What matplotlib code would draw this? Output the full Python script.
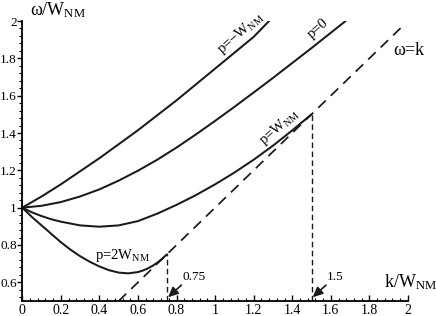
import matplotlib
matplotlib.use('Agg')
import matplotlib.pyplot as plt
from matplotlib.ticker import MultipleLocator, FixedLocator, FixedFormatter

plt.rcParams['font.family'] = ['Liberation Serif', 'DejaVu Serif']
plt.rcParams['mathtext.fontset'] = 'custom'
plt.rcParams['mathtext.rm'] = 'Liberation Serif'
plt.rcParams['mathtext.it'] = 'Liberation Serif:italic'

# ---- data ----
k_neg = [0, 0.1, 0.2, 0.3, 0.4, 0.5, 0.6, 0.7, 0.8, 0.9, 1.0, 1.1, 1.2, 1.28]
w_neg = [1.0, 1.06, 1.125, 1.195, 1.265, 1.34, 1.415, 1.495, 1.575, 1.66, 1.745, 1.83, 1.915, 2.0]

k_zero = [0, 0.1, 0.2, 0.3, 0.4, 0.5, 0.6, 0.7, 0.8, 0.9, 1.0, 1.1, 1.2, 1.3, 1.4, 1.5, 1.6, 1.677]
w_zero = [1.0, 1.01, 1.03, 1.06, 1.098, 1.145, 1.198, 1.257, 1.322, 1.392, 1.465, 1.54, 1.617,
          1.695, 1.775, 1.855, 1.937, 2.0]

k_one = [0, 0.05, 0.1, 0.15, 0.2, 0.3, 0.4, 0.5, 0.6, 0.7, 0.8, 0.9, 1.0, 1.1, 1.2, 1.3, 1.4, 1.5]
w_one = [1.0, 0.975, 0.955, 0.938, 0.925, 0.905, 0.898, 0.905, 0.928, 0.968, 1.015, 1.067,
         1.125, 1.188, 1.257, 1.332, 1.414, 1.5]

k_two = [0, 0.05, 0.1, 0.15, 0.2, 0.25, 0.3, 0.35, 0.4, 0.45, 0.5, 0.55, 0.6, 0.625, 0.65,
         0.675, 0.7, 0.725, 0.75]
w_two = [1.0, 0.95, 0.905, 0.86, 0.815, 0.775, 0.74, 0.71, 0.685, 0.665, 0.652, 0.648, 0.655,
         0.663, 0.674, 0.688, 0.705, 0.726, 0.75]

light_k = [0.5, 1.97]          # omega = k line
cut_k = [0.75, 1.5]            # end points on omega = k
cut_labels = ['0.75', '1.5']

x_ticks = [0, 0.2, 0.4, 0.6, 0.8, 1.0, 1.2, 1.4, 1.6, 1.8, 2.0]
x_ticklabels = ['0', '0.2', '0.4', '0.6', '0.8', '1', '1.2', '1.4', '1.6', '1.8', '2']
y_ticks = [0.6, 0.8, 1.0, 1.2, 1.4, 1.6, 1.8, 2.0]
y_ticklabels = ['0.6', '0.8', '1', '1.2', '1.4', '1.6', '1.8', '2']

fig = plt.figure(figsize=(4.36, 3.16), dpi=100)
ax = fig.add_axes([0.0511, 0.0475, 0.8845, 0.886])

lw = 1.45
col = '#1a1a1a'
ax.plot(k_neg, w_neg, color=col, lw=lw, solid_capstyle='round', solid_joinstyle='round')
ax.plot(k_zero, w_zero, color=col, lw=lw, solid_capstyle='round', solid_joinstyle='round')
ax.plot(k_one, w_one, color=col, lw=lw, solid_capstyle='round', solid_joinstyle='round')
ax.plot(k_two, w_two, color=col, lw=lw, solid_capstyle='round', solid_joinstyle='round')
ax.plot(light_k, light_k, color=col, lw=1.25, dashes=(6, 4))
for c in cut_k:
    ax.plot([c, c], [0.5, c], color=col, lw=1.0, dashes=(4, 2.5))

for c, lab in zip(cut_k, cut_labels):
    ax.annotate('', xy=(c + 0.006, 0.52), xytext=(c + 0.075, 0.585),
                arrowprops=dict(arrowstyle='-|>,head_length=0.6,head_width=0.28',
                                color=col, lw=1.2, shrinkA=0, shrinkB=0))
    ax.text(c + 0.08, 0.63, lab, fontsize=9.5, ha='left', va='center')

ax.set_xlim(0, 2.0)
ax.set_ylim(0.5, 2.0)
ax.xaxis.set_major_locator(FixedLocator(x_ticks))
ax.xaxis.set_major_formatter(FixedFormatter(x_ticklabels))
ax.yaxis.set_major_locator(FixedLocator(y_ticks))
ax.yaxis.set_major_formatter(FixedFormatter(y_ticklabels))
ax.xaxis.set_minor_locator(MultipleLocator(0.04))
ax.yaxis.set_minor_locator(MultipleLocator(0.04))
ax.tick_params(axis='x', which='major', direction='in', length=4, width=1.0, labelsize=10, pad=2)
ax.tick_params(axis='x', which='minor', direction='in', length=2.5, width=0.8)
ax.tick_params(axis='y', which='major', direction='out', length=3.5, width=1.0, labelsize=9.5, pad=0.5)
ax.tick_params(axis='y', which='minor', direction='out', length=2.2, width=0.8)
for s in ['top', 'right']:
    ax.spines[s].set_visible(False)
for s in ['left', 'bottom']:
    ax.spines[s].set_linewidth(1.3)

# curve labels
ax.text(1.13, 1.935, r'p=$-$W$_{\mathrm{NM}}$', fontsize=10.5, rotation=41,
        ha='center', va='center', rotation_mode='anchor')
ax.text(1.535, 1.96, 'p=0', fontsize=10.5, rotation=41, ha='center', va='center',
        rotation_mode='anchor')
ax.text(1.335, 1.43, r'p=W$_{\mathrm{NM}}$', fontsize=10.5, rotation=41,
        ha='center', va='center', rotation_mode='anchor')
ax.text(0.52, 0.745, r'p=2W$_{\mathrm{NM}}$', fontsize=10.5, ha='center', va='center')
ax.text(2.005, 1.84, 'ω=k', fontsize=13, ha='center', va='center', clip_on=False)

# axis labels
ax.text(0.04, 2.06, r'ω/W$_{\mathrm{NM}}$', fontsize=13, ha='left', va='center', clip_on=False)
ax.text(1.875, 0.6, r'k/W$_{\mathrm{NM}}$', fontsize=13, ha='left', va='center', clip_on=False)

fig.savefig('out.png', dpi=100)
